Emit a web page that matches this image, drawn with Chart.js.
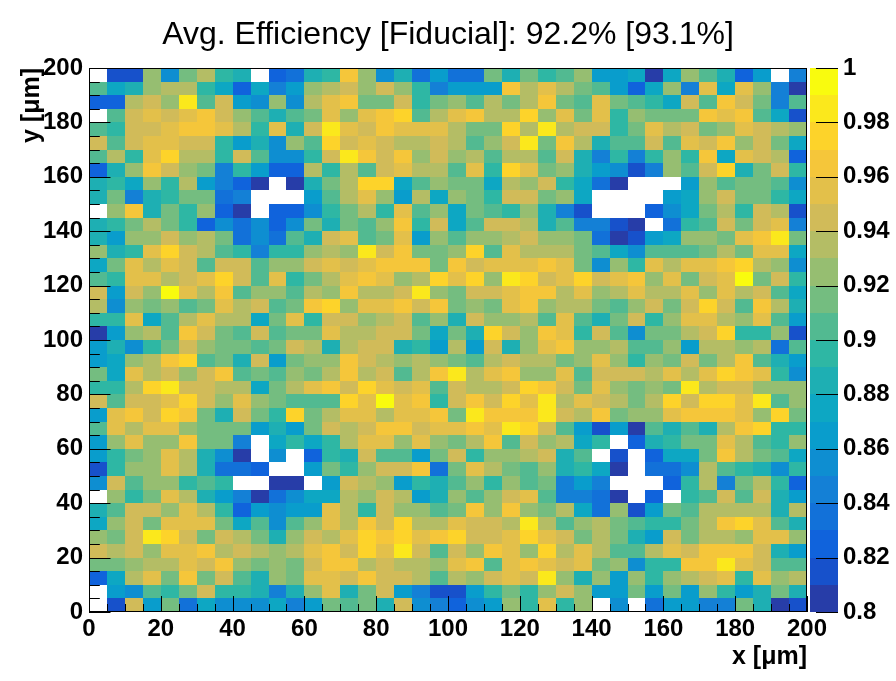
<!DOCTYPE html>
<html>
<head>
<meta charset="utf-8">
<title>Avg. Efficiency</title>
<script src="https://cdn.jsdelivr.net/npm/chart.js@4.4.1/dist/chart.umd.min.js"></script>
<style>
  html, body { margin: 0; padding: 0; background: #fff; }
</style>
</head>
<body>
<canvas id="effMap" width="896" height="681"></canvas>
<script>
// Bin low edges along x and y, in um
var binLowX = [0, 5, 10, 15, 20, 25, 30, 35, 40, 45, 50, 55, 60, 65, 70, 75, 80, 85, 90, 95,
  100, 105, 110, 115, 120, 125, 130, 135, 140, 145, 150, 155, 160, 165, 170, 175, 180, 185, 190, 195];
var binLowY = [0, 5, 10, 15, 20, 25, 30, 35, 40, 45, 50, 55, 60, 65, 70, 75, 80, 85, 90, 95,
  100, 105, 110, 115, 120, 125, 130, 135, 140, 145, 150, 155, 160, 165, 170, 175, 180, 185, 190, 195];
var binWidth = 5;

// Efficiency per cell. First row is the top of the map (y 195-200),
// each row runs from x = 0 to x = 200. null = empty / below range (white).
var effRows = [
  [null, 0.815, 0.815, 0.925, 0.855, 0.915, 0.935, 0.895, 0.885, null, 0.825, 0.835, 0.885, 0.895, 0.965, 0.925, 0.855, 0.885, 0.835, 0.865,
   0.835, 0.835, 0.915, 0.885, 0.915, 0.895, 0.905, 0.925, 0.865, 0.865, 0.875, 0.805, 0.875, 0.925, 0.905, 0.885, 0.825, 0.865, null, 0.845],
  [0.905, 0.875, 0.885, 0.925, 0.935, 0.935, 0.895, 0.875, 0.825, 0.875, 0.845, 0.865, 0.925, 0.935, 0.945, 0.925, 0.945, 0.925, 0.895, 0.845,
   0.865, 0.865, 0.865, 0.965, 0.935, 0.955, 0.935, 0.915, 0.905, 0.865, 0.825, 0.875, 0.925, 0.845, 0.955, 0.875, 0.955, 0.925, 0.845, 0.805],
  [0.825, 0.825, 0.935, 0.945, 0.925, 0.985, 0.905, 0.945, 0.865, 0.855, 0.925, 0.855, 0.935, 0.955, 0.965, 0.915, 0.915, 0.945, 0.895, 0.915,
   0.925, 0.905, 0.935, 0.915, 0.935, 0.965, 0.915, 0.905, 0.955, 0.915, 0.905, 0.895, 0.875, 0.945, 0.905, 0.965, 0.945, 0.915, 0.845, 0.905],
  [null, 0.905, 0.945, 0.955, 0.945, 0.955, 0.965, 0.945, 0.925, 0.905, 0.885, 0.905, 0.915, 0.955, 0.925, 0.955, 0.965, 0.975, 0.905, 0.935,
   0.955, 0.965, 0.935, 0.935, 0.975, 0.925, 0.955, 0.915, 0.955, 0.895, 0.925, 0.915, 0.915, 0.915, 0.965, 0.955, 0.965, 0.905, 0.875, 0.815],
  [0.905, 0.895, 0.945, 0.945, 0.955, 0.965, 0.965, 0.955, 0.935, 0.895, 0.955, 0.885, 0.945, 0.985, 0.955, 0.945, 0.965, 0.955, 0.955, 0.955,
   0.935, 0.915, 0.915, 0.975, 0.935, 0.985, 0.935, 0.945, 0.945, 0.895, 0.915, 0.955, 0.935, 0.945, 0.915, 0.925, 0.955, 0.945, 0.935, 0.925],
  [0.945, 0.905, 0.945, 0.955, 0.955, 0.945, 0.945, 0.895, 0.865, 0.885, 0.855, 0.925, 0.905, 0.975, 0.945, 0.955, 0.945, 0.935, 0.935, 0.945,
   0.935, 0.905, 0.925, 0.945, 0.985, 0.915, 0.965, 0.935, 0.885, 0.905, 0.905, 0.945, 0.905, 0.955, 0.945, 0.965, 0.925, 0.945, 0.915, 0.875],
  [0.905, 0.935, 0.895, 0.955, 0.975, 0.935, 0.935, 0.895, 0.945, 0.905, 0.855, 0.855, 0.895, 0.945, 0.985, 0.965, 0.945, 0.965, 0.925, 0.945,
   0.925, 0.935, 0.905, 0.935, 0.935, 0.905, 0.945, 0.885, 0.845, 0.895, 0.845, 0.895, 0.925, 0.895, 0.965, 0.875, 0.955, 0.945, 0.935, 0.825],
  [0.825, 0.885, 0.925, 0.965, 0.945, 0.925, 0.915, 0.845, 0.895, 0.865, 0.825, 0.825, 0.935, 0.895, 0.935, 0.905, 0.945, 0.955, 0.935, 0.935,
   0.905, 0.955, 0.895, 0.975, 0.955, 0.915, 0.925, 0.885, 0.865, 0.855, 0.815, 0.845, 0.925, 0.905, 0.945, 0.975, 0.885, 0.915, 0.945, 0.895],
  [0.885, 0.895, 0.875, 0.925, 0.895, 0.935, 0.865, 0.845, 0.825, 0.805, null, 0.805, 0.885, 0.915, 0.935, 0.975, 0.975, 0.875, 0.905, 0.925,
   0.915, 0.915, 0.875, 0.935, 0.925, 0.945, 0.895, 0.875, 0.835, 0.805, null, null, null, 0.865, 0.925, 0.905, 0.915, 0.915, 0.905, 0.855],
  [0.885, 0.915, 0.845, 0.885, 0.895, 0.915, 0.915, 0.835, 0.845, null, null, null, 0.865, 0.905, 0.935, 0.955, 0.925, 0.865, 0.935, 0.875,
   0.925, 0.915, 0.895, 0.945, 0.945, 0.915, 0.925, 0.875, null, null, null, null, 0.865, 0.875, 0.925, 0.945, 0.915, 0.915, 0.895, 0.875],
  [null, 0.925, 0.965, 0.885, 0.915, 0.895, 0.925, 0.825, 0.805, null, 0.825, 0.825, 0.855, 0.895, 0.915, 0.935, 0.895, 0.955, 0.905, 0.925,
   0.875, 0.915, 0.905, 0.895, 0.925, 0.885, 0.845, 0.815, null, null, null, 0.825, 0.855, 0.875, 0.915, 0.935, 0.895, 0.945, 0.935, 0.815],
  [0.885, 0.895, 0.915, 0.935, 0.915, 0.895, 0.825, 0.855, 0.835, 0.855, 0.825, 0.855, 0.915, 0.885, 0.915, 0.905, 0.925, 0.965, 0.895, 0.945,
   0.875, 0.905, 0.945, 0.945, 0.935, 0.885, 0.905, 0.845, 0.845, 0.815, 0.805, null, 0.835, 0.895, 0.905, 0.945, 0.915, 0.945, 0.955, 0.845],
  [0.885, 0.865, 0.925, 0.925, 0.945, 0.925, 0.935, 0.915, 0.835, 0.855, 0.835, 0.905, 0.885, 0.945, 0.955, 0.905, 0.915, 0.955, 0.865, 0.925,
   0.905, 0.925, 0.925, 0.935, 0.945, 0.925, 0.925, 0.915, 0.835, 0.805, 0.815, 0.865, 0.875, 0.925, 0.925, 0.915, 0.955, 0.965, 0.985, 0.915],
  [0.925, 0.885, 0.895, 0.955, 0.975, 0.945, 0.935, 0.905, 0.895, 0.845, 0.895, 0.895, 0.925, 0.935, 0.925, 0.985, 0.945, 0.965, 0.915, 0.915,
   0.925, 0.975, 0.905, 0.955, 0.935, 0.935, 0.935, 0.915, 0.905, 0.875, 0.855, 0.905, 0.905, 0.905, 0.915, 0.935, 0.915, 0.955, 0.955, 0.875],
  [0.875, 0.915, 0.955, 0.935, 0.955, 0.945, 0.905, 0.945, 0.945, 0.905, 0.925, 0.925, 0.945, 0.955, 0.945, 0.955, 0.965, 0.965, 0.965, 0.915,
   0.965, 0.945, 0.955, 0.955, 0.955, 0.965, 0.955, 0.915, 0.855, 0.925, 0.895, 0.955, 0.935, 0.955, 0.955, 0.965, 0.975, 0.935, 0.925, 0.855],
  [0.905, 0.895, 0.955, 0.955, 0.935, 0.945, 0.955, 0.975, 0.945, 0.905, 0.955, 0.895, 0.915, 0.935, 0.955, 0.965, 0.955, 0.925, 0.935, 0.975,
   0.955, 0.975, 0.925, 0.985, 0.975, 0.945, 0.955, 0.975, 0.945, 0.955, 0.965, 0.925, 0.955, 0.915, 0.945, 0.955, 0.995, 0.915, 0.945, 0.895],
  [0.945, 0.865, 0.945, 0.925, 0.995, 0.955, 0.935, 0.965, 0.905, 0.925, 0.925, 0.905, 0.935, 0.925, 0.965, 0.935, 0.935, 0.945, 0.985, 0.925,
   0.915, 0.945, 0.945, 0.955, 0.965, 0.965, 0.935, 0.955, 0.925, 0.935, 0.955, 0.935, 0.935, 0.955, 0.925, 0.955, 0.935, 0.945, 0.905, 0.875],
  [0.935, 0.855, 0.925, 0.915, 0.925, 0.905, 0.915, 0.955, 0.935, 0.945, 0.905, 0.915, 0.965, 0.975, 0.925, 0.955, 0.955, 0.965, 0.945, 0.965,
   0.915, 0.925, 0.915, 0.955, 0.965, 0.925, 0.935, 0.935, 0.915, 0.905, 0.925, 0.945, 0.915, 0.945, 0.975, 0.945, 0.905, 0.965, 0.935, 0.885],
  [0.895, 0.895, 0.955, 0.875, 0.905, 0.935, 0.955, 0.935, 0.935, 0.875, 0.915, 0.955, 0.895, 0.945, 0.945, 0.925, 0.935, 0.945, 0.905, 0.925,
   0.885, 0.945, 0.925, 0.925, 0.935, 0.905, 0.955, 0.905, 0.885, 0.915, 0.945, 0.895, 0.925, 0.955, 0.955, 0.935, 0.925, 0.955, 0.905, 0.865],
  [0.805, 0.865, 0.925, 0.935, 0.905, 0.965, 0.945, 0.915, 0.905, 0.945, 0.905, 0.915, 0.915, 0.955, 0.935, 0.935, 0.945, 0.945, 0.915, 0.875,
   0.915, 0.885, 0.975, 0.945, 0.925, 0.965, 0.955, 0.895, 0.945, 0.905, 0.855, 0.915, 0.915, 0.935, 0.945, 0.975, 0.895, 0.895, 0.925, 0.815],
  [0.865, 0.885, 0.855, 0.895, 0.915, 0.945, 0.925, 0.915, 0.915, 0.905, 0.915, 0.945, 0.935, 0.885, 0.935, 0.945, 0.945, 0.885, 0.895, 0.865,
   0.935, 0.865, 0.945, 0.885, 0.925, 0.955, 0.965, 0.925, 0.925, 0.935, 0.905, 0.905, 0.925, 0.865, 0.935, 0.935, 0.925, 0.935, 0.835, 0.905],
  [0.865, 0.875, 0.925, 0.935, 0.965, 0.975, 0.905, 0.915, 0.885, 0.945, 0.865, 0.915, 0.925, 0.925, 0.965, 0.945, 0.935, 0.925, 0.935, 0.925,
   0.915, 0.905, 0.935, 0.945, 0.935, 0.935, 0.915, 0.925, 0.955, 0.925, 0.895, 0.925, 0.915, 0.945, 0.915, 0.935, 0.965, 0.905, 0.885, 0.865],
  [0.915, 0.875, 0.955, 0.935, 0.945, 0.925, 0.945, 0.965, 0.905, 0.915, 0.905, 0.925, 0.915, 0.935, 0.965, 0.935, 0.945, 0.905, 0.935, 0.965,
   0.985, 0.935, 0.955, 0.965, 0.925, 0.925, 0.955, 0.905, 0.945, 0.945, 0.945, 0.935, 0.955, 0.935, 0.955, 0.975, 0.965, 0.955, 0.895, 0.855],
  [0.895, 0.895, 0.935, 0.975, 0.985, 0.945, 0.945, 0.935, 0.935, 0.875, 0.915, 0.935, 0.955, 0.965, 0.945, 0.975, 0.955, 0.945, 0.955, 0.905,
   0.945, 0.935, 0.935, 0.945, 0.975, 0.965, 0.945, 0.915, 0.955, 0.925, 0.915, 0.925, 0.915, 0.985, 0.935, 0.945, 0.945, 0.925, 0.925, 0.925],
  [0.945, 0.905, 0.945, 0.945, 0.955, 0.975, 0.945, 0.925, 0.955, 0.925, 0.915, 0.905, 0.905, 0.905, 0.975, 0.955, 0.995, 0.955, 0.965, 0.895,
   0.945, 0.965, 0.945, 0.975, 0.955, 0.985, 0.935, 0.955, 0.945, 0.935, 0.915, 0.935, 0.975, 0.945, 0.975, 0.975, 0.955, 0.985, 0.905, 0.925],
  [0.865, 0.955, 0.965, 0.945, 0.975, 0.965, 0.915, 0.885, 0.945, 0.915, 0.895, 0.975, 0.915, 0.935, 0.955, 0.955, 0.935, 0.955, 0.955, 0.965,
   0.915, 0.985, 0.965, 0.965, 0.965, 0.985, 0.945, 0.935, 0.965, 0.915, 0.925, 0.925, 0.955, 0.965, 0.965, 0.965, 0.955, 0.925, 0.975, 0.915],
  [0.905, 0.955, 0.935, 0.955, 0.955, 0.925, 0.915, 0.915, 0.915, 0.865, 0.885, 0.865, 0.915, 0.945, 0.935, 0.945, 0.965, 0.965, 0.945, 0.955,
   0.955, 0.965, 0.955, 0.985, 0.975, 0.945, 0.905, 0.865, 0.815, 0.865, 0.805, 0.905, 0.885, 0.905, 0.885, 0.935, 0.965, 0.975, 0.895, 0.895],
  [0.865, 0.925, 0.955, 0.925, 0.925, 0.965, 0.915, 0.915, 0.845, null, 0.875, 0.895, 0.875, 0.895, 0.935, 0.955, 0.955, 0.925, 0.955, 0.925,
   0.915, 0.935, 0.965, 0.905, 0.945, 0.925, 0.935, 0.875, 0.895, null, 0.825, 0.885, 0.895, 0.915, 0.915, 0.955, 0.935, 0.905, 0.895, 0.925],
  [0.865, 0.895, 0.915, 0.925, 0.955, 0.935, 0.885, 0.855, 0.805, null, 0.855, null, 0.825, 0.895, 0.885, 0.945, 0.905, 0.905, 0.865, 0.915,
   0.945, 0.895, 0.925, 0.925, 0.935, 0.945, 0.885, 0.905, null, 0.815, null, 0.825, 0.875, 0.875, 0.915, 0.965, 0.935, 0.915, 0.905, 0.875],
  [0.815, 0.895, 0.925, 0.925, 0.955, 0.935, 0.885, 0.835, 0.835, 0.825, null, null, 0.865, 0.915, 0.895, 0.925, 0.945, 0.945, 0.965, 0.835,
   0.915, 0.955, 0.935, 0.915, 0.905, 0.925, 0.885, 0.895, 0.875, 0.805, null, 0.835, 0.835, 0.855, 0.935, 0.905, 0.895, 0.885, 0.855, 0.895],
  [0.855, 0.945, 0.905, 0.925, 0.925, 0.895, 0.905, 0.895, null, null, 0.805, 0.805, null, 0.865, 0.945, 0.935, 0.925, 0.865, 0.895, 0.885,
   0.905, 0.925, 0.895, 0.925, 0.905, 0.915, 0.845, 0.865, 0.845, null, null, null, 0.825, 0.895, 0.935, 0.845, 0.915, 0.935, 0.895, 0.825],
  [null, 0.925, 0.895, 0.915, 0.955, 0.935, 0.885, 0.865, 0.845, 0.805, 0.835, 0.855, 0.875, 0.875, 0.935, 0.925, 0.945, 0.935, 0.865, 0.885,
   0.925, 0.905, 0.925, 0.945, 0.955, 0.905, 0.845, 0.845, 0.835, 0.805, null, 0.825, null, 0.895, 0.905, 0.945, 0.905, 0.945, 0.885, 0.865],
  [0.885, 0.905, 0.945, 0.945, 0.925, 0.955, 0.935, 0.895, 0.825, 0.865, 0.855, 0.865, 0.865, 0.955, 0.935, 0.895, 0.945, 0.925, 0.925, 0.905,
   0.915, 0.965, 0.925, 0.965, 0.925, 0.915, 0.935, 0.875, 0.835, 0.925, 0.815, 0.865, 0.915, 0.905, 0.935, 0.935, 0.935, 0.935, 0.885, 0.935],
  [0.875, 0.925, 0.945, 0.915, 0.955, 0.955, 0.955, 0.915, 0.875, 0.905, 0.855, 0.905, 0.925, 0.955, 0.935, 0.965, 0.945, 0.975, 0.935, 0.935,
   0.955, 0.945, 0.945, 0.935, 0.985, 0.935, 0.905, 0.925, 0.935, 0.915, 0.905, 0.895, 0.895, 0.915, 0.935, 0.965, 0.975, 0.955, 0.905, 0.885],
  [0.925, 0.915, 0.945, 0.985, 0.975, 0.945, 0.915, 0.945, 0.935, 0.915, 0.885, 0.925, 0.945, 0.935, 0.955, 0.975, 0.965, 0.975, 0.955, 0.965,
   0.975, 0.945, 0.945, 0.955, 0.975, 0.955, 0.945, 0.915, 0.935, 0.915, 0.885, 0.865, 0.945, 0.915, 0.935, 0.935, 0.925, 0.955, 0.955, 0.925],
  [0.945, 0.935, 0.945, 0.925, 0.955, 0.955, 0.965, 0.935, 0.945, 0.935, 0.925, 0.935, 0.955, 0.965, 0.945, 0.975, 0.955, 0.985, 0.945, 0.905,
   0.945, 0.925, 0.965, 0.955, 0.925, 0.975, 0.935, 0.955, 0.935, 0.905, 0.905, 0.935, 0.955, 0.945, 0.965, 0.965, 0.965, 0.945, 0.885, 0.865],
  [0.915, 0.915, 0.925, 0.935, 0.935, 0.955, 0.945, 0.965, 0.925, 0.915, 0.925, 0.915, 0.945, 0.965, 0.965, 0.935, 0.945, 0.935, 0.935, 0.925,
   0.955, 0.965, 0.905, 0.955, 0.965, 0.955, 0.945, 0.955, 0.915, 0.925, 0.855, 0.895, 0.895, 0.965, 0.965, 0.985, 0.955, 0.945, 0.905, 0.905],
  [0.825, 0.875, 0.935, 0.955, 0.915, 0.965, 0.915, 0.945, 0.905, 0.885, 0.925, 0.915, 0.955, 0.955, 0.945, 0.965, 0.945, 0.945, 0.935, 0.905,
   0.935, 0.925, 0.945, 0.955, 0.945, 0.985, 0.925, 0.885, 0.925, 0.865, 0.925, 0.895, 0.925, 0.935, 0.945, 0.955, 0.895, 0.955, 0.925, 0.935],
  [null, 0.865, 0.855, 0.905, 0.895, 0.915, 0.945, 0.895, 0.895, 0.885, 0.845, 0.885, 0.925, 0.955, 0.885, 0.915, 0.945, 0.865, 0.845, 0.815,
   0.815, 0.865, 0.895, 0.915, 0.895, 0.925, 0.945, 0.925, 0.865, 0.865, 0.915, 0.865, 0.915, 0.865, 0.925, 0.895, 0.865, 0.885, 0.915, 0.885],
  [null, 0.815, 0.945, 0.865, 0.915, 0.835, 0.875, 0.855, 0.855, 0.855, 0.875, 0.845, 0.865, 0.915, 0.905, 0.915, 0.885, 0.945, 0.855, 0.845,
   0.825, 0.855, 0.865, 0.925, 0.895, 0.955, 0.895, 0.925, null, 0.855, null, 0.835, 0.865, 0.865, 0.845, 0.845, 0.915, 0.885, 0.805, 0.815]
];

// Colour axis range and number of contour levels
var zMin = 0.8;
var zMax = 1.0;
var nLevels = 20;

var titleText = "Avg. Efficiency [Fiducial]: 92.2% [93.1%]";

// ROOT kBird palette
var birdStops = [0.0000, 0.1250, 0.2500, 0.3750, 0.5000, 0.6250, 0.7500, 0.8750, 1.0000];
var birdR = [0.2082, 0.0592, 0.0780, 0.0232, 0.1802, 0.5301, 0.8186, 0.9956, 0.9764];
var birdG = [0.1664, 0.3599, 0.5041, 0.6419, 0.7178, 0.7492, 0.7328, 0.7862, 0.9832];
var birdB = [0.5293, 0.8684, 0.8385, 0.7914, 0.6425, 0.4662, 0.3499, 0.1968, 0.0539];

function birdColor(f) {
  var k = 0;
  while (k < birdStops.length - 2 && f > birdStops[k + 1]) k++;
  var t = (f - birdStops[k]) / (birdStops[k + 1] - birdStops[k]);
  var r = birdR[k] + t * (birdR[k + 1] - birdR[k]);
  var g = birdG[k] + t * (birdG[k + 1] - birdG[k]);
  var b = birdB[k] + t * (birdB[k + 1] - birdB[k]);
  return "rgb(" + Math.round(r * 255) + "," + Math.round(g * 255) + "," + Math.round(b * 255) + ")";
}

// same level -> colour rule as ROOT's COLZ with contours
function levelColor(level) {
  var idx = Math.floor((level + 0.99) * 255 / nLevels);
  return birdColor(idx / 254);
}

function valueLevel(v) {
  var lev = Math.floor((v - zMin) / ((zMax - zMin) / nLevels) + 1e-6);
  return Math.max(0, Math.min(nLevels - 1, lev));
}

// one point per cell, at the cell centre
var cells = [];
effRows.forEach(function (row, r) {
  var yLow = binLowY[binLowY.length - 1 - r];
  row.forEach(function (v, c) {
    cells.push({ x: binLowX[c] + binWidth / 2, y: yLow + binWidth / 2, v: v });
  });
});

var fontFamily = "'Liberation Sans', Arial, Helvetica, sans-serif";
var tickFont = { family: fontFamily, size: 24, weight: "bold" };
var axisTitleFont = { family: fontFamily, size: 25, weight: "bold" };

var heatmapPlugin = {
  id: "heatmap",
  beforeDatasetsDraw: function (chart) {
    var ctx = chart.ctx;
    var xs = chart.scales.x;
    var ys = chart.scales.y;
    ctx.save();
    chart.data.datasets[0].data.forEach(function (p) {
      if (p.v === null || p.v < zMin) return;
      var x0 = Math.round(xs.getPixelForValue(p.x - binWidth / 2));
      var x1 = Math.round(xs.getPixelForValue(p.x + binWidth / 2));
      var y0 = Math.round(ys.getPixelForValue(p.y - binWidth / 2));
      var y1 = Math.round(ys.getPixelForValue(p.y + binWidth / 2));
      ctx.fillStyle = levelColor(valueLevel(p.v));
      ctx.fillRect(x0, y1, x1 - x0, y0 - y1);
    });
    ctx.restore();
  },
  afterDraw: function (chart) {
    var ctx = chart.ctx;
    var a = chart.chartArea;
    var xs = chart.scales.x;
    var ys = chart.scales.y;
    var zs = chart.scales.z;
    var v, px, len;
    ctx.save();
    ctx.strokeStyle = "#000";
    ctx.lineWidth = 1;

    // frame
    ctx.strokeRect(a.left + 0.5, a.top + 0.5, a.right - a.left - 1, a.bottom - a.top - 1);

    // axis ticks, pointing into the frame
    ctx.beginPath();
    for (v = 0; v <= 200; v += 5) {
      px = Math.round(xs.getPixelForValue(v)) + 0.5;
      len = (v % 20 === 0) ? 16 : 8;
      ctx.moveTo(px, a.bottom);
      ctx.lineTo(px, a.bottom - len);
      px = Math.round(ys.getPixelForValue(v)) + 0.5;
      len = (v % 20 === 0) ? 21.5 : 10.8;
      ctx.moveTo(a.left, px);
      ctx.lineTo(a.left + len, px);
    }
    ctx.stroke();

    // colour bar
    var barLeft = a.right + 3;
    var barRight = a.right + 31;
    for (var i = 0; i < nLevels; i++) {
      var lo = zMin + (zMax - zMin) * i / nLevels;
      var hi = zMin + (zMax - zMin) * (i + 1) / nLevels;
      var yTop = Math.round(zs.getPixelForValue(hi));
      var yBot = Math.round(zs.getPixelForValue(lo));
      ctx.fillStyle = levelColor(i);
      ctx.fillRect(barLeft, yTop, barRight - barLeft, yBot - yTop);
    }
    ctx.beginPath();
    zs.ticks.forEach(function (t) {
      var py = Math.round(zs.getPixelForValue(t.value)) + 0.5;
      ctx.moveTo(barRight, py);
      ctx.lineTo(barRight - 22, py);
    });
    ctx.stroke();
    ctx.restore();
  }
};

var ctx = document.getElementById("effMap");
var effChart = new Chart(ctx, {
  type: "scatter",
  data: {
    datasets: [
      {
        label: "Efficiency",
        data: cells,
        pointRadius: 0,
        pointHoverRadius: 0
      }
    ]
  },
  options: {
    responsive: false,
    animation: false,
    devicePixelRatio: 1,
    layout: { padding: 0 },
    plugins: {
      legend: { display: false },
      tooltip: { enabled: false },
      title: {
        display: true,
        text: titleText,
        color: "#000",
        font: { family: fontFamily, size: 32, weight: "normal" },
        padding: { top: 16, bottom: 13.6 }
      }
    },
    scales: {
      x: {
        type: "linear",
        position: "bottom",
        min: 0,
        max: 200,
        grid: { display: false, drawTicks: false, tickLength: 0 },
        border: { display: false },
        ticks: {
          stepSize: 20,
          autoSkip: false,
          maxRotation: 0,
          padding: 3,
          color: "#000",
          font: tickFont
        },
        title: {
          display: true,
          text: "x [μm]",
          align: "end",
          color: "#000",
          font: axisTitleFont,
          padding: { top: 0, bottom: 9 }
        },
        afterFit: function (s) { s.height = 69; }
      },
      y: {
        type: "linear",
        position: "left",
        min: 0,
        max: 200,
        grid: { display: false, drawTicks: false, tickLength: 0 },
        border: { display: false },
        ticks: {
          stepSize: 20,
          padding: 6,
          color: "#000",
          font: tickFont
        },
        title: {
          display: true,
          text: "y [μm]",
          align: "end",
          color: "#000",
          font: axisTitleFont,
          padding: { top: 17, bottom: 0 }
        },
        afterFit: function (s) { s.width = 89; }
      },
      z: {
        type: "linear",
        axis: "y",
        position: "right",
        min: zMin,
        max: zMax,
        grid: { display: false, drawTicks: false, tickLength: 0 },
        border: { display: false },
        ticks: {
          stepSize: 0.02,
          padding: 36,
          color: "#000",
          font: tickFont,
          callback: function (v) { return String(Number(v.toFixed(2))); }
        },
        afterFit: function (s) { s.width = 89; }
      }
    }
  },
  plugins: [heatmapPlugin]
});
</script>
</body>
</html>
